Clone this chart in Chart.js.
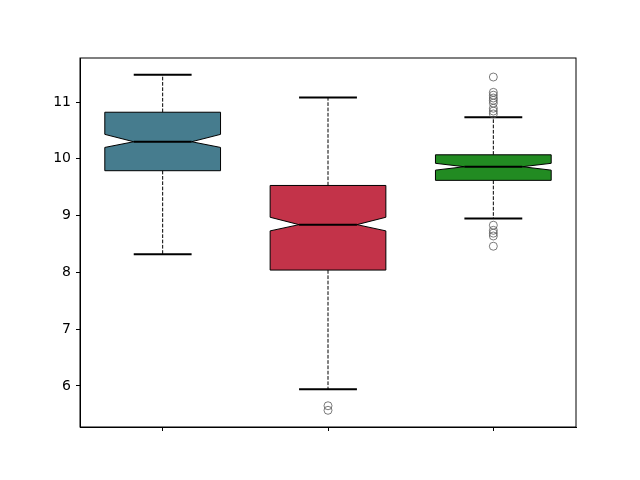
<!DOCTYPE html>
<html>
<head>
<meta charset="utf-8">
<script src="https://cdn.jsdelivr.net/npm/chart.js@4.4.1/dist/chart.umd.min.js"></script>
<style>
  html, body { margin: 0; padding: 0; background: #fff; }
  #wrap { width: 640px; height: 480px; }
</style>
</head>
<body>
<div id="wrap"><canvas id="chart" width="640" height="480"></canvas></div>
<script>
(function () {
    'use strict';

    /* --- Data --- */
    var positions   = [1, 2, 3];
    var boxColors   = ['#467c8e', '#c33349', '#228b22'];
    var whiskerLow  = [8.32, 5.94, 8.95];
    var q1          = [9.79, 8.04, 9.62];
    var notchLow    = [10.20, 8.73, 9.80];
    var median      = [10.30, 8.84, 9.86];
    var notchHigh   = [10.43, 8.97, 9.92];
    var q3          = [10.82, 9.53, 10.07];
    var whiskerHigh = [11.48, 11.08, 10.73];
    var outliers2   = [5.65, 5.57];
    var outliers3   = [11.44, 11.17, 11.12, 11.07, 11.03, 10.98, 10.89, 10.84, 10.79,
                       8.83, 8.74, 8.69, 8.64, 8.46];
    var yTicks      = [6, 7, 8, 9, 10, 11];

    var boxWidth = 0.7;
    var capWidth = 0.35;

    var outlierPoints = outliers2.map(function (v) { return { x: 2, y: v }; })
        .concat(outliers3.map(function (v) { return { x: 3, y: v }; }));

    /* --- Notched boxes drawn through the chart scales --- */
    var boxPlugin = {
        id: 'notchedBoxes',
        beforeDatasetsDraw: function (chart) {
            var ctx = chart.ctx;
            var xs = chart.scales.x, ys = chart.scales.y;
            ctx.save();
            positions.forEach(function (p, i) {
                var cx = xs.getPixelForValue(p);
                var l = xs.getPixelForValue(p - boxWidth / 2);
                var r = xs.getPixelForValue(p + boxWidth / 2);
                var wl = xs.getPixelForValue(p - boxWidth / 4);
                var wr = xs.getPixelForValue(p + boxWidth / 4);
                var cl = xs.getPixelForValue(p - capWidth / 2);
                var cr = xs.getPixelForValue(p + capWidth / 2);
                var yQ1 = ys.getPixelForValue(q1[i]);
                var yQ3 = ys.getPixelForValue(q3[i]);
                var yNl = ys.getPixelForValue(notchLow[i]);
                var yNh = ys.getPixelForValue(notchHigh[i]);
                var yMd = ys.getPixelForValue(median[i]);
                var yWl = ys.getPixelForValue(whiskerLow[i]);
                var yWh = ys.getPixelForValue(whiskerHigh[i]);

                // whiskers
                ctx.strokeStyle = '#000';
                ctx.lineWidth = 1;
                ctx.setLineDash([3.7, 1.6]);
                ctx.beginPath();
                ctx.moveTo(cx, yQ1); ctx.lineTo(cx, yWl);
                ctx.moveTo(cx, yQ3); ctx.lineTo(cx, yWh);
                ctx.stroke();
                ctx.setLineDash([]);

                // caps
                ctx.lineWidth = 2;
                ctx.beginPath();
                ctx.moveTo(cl, yWl); ctx.lineTo(cr, yWl);
                ctx.moveTo(cl, yWh); ctx.lineTo(cr, yWh);
                ctx.stroke();

                // box
                ctx.beginPath();
                ctx.moveTo(l, yQ1);
                ctx.lineTo(l, yNl);
                ctx.lineTo(wl, yMd);
                ctx.lineTo(l, yNh);
                ctx.lineTo(l, yQ3);
                ctx.lineTo(r, yQ3);
                ctx.lineTo(r, yNh);
                ctx.lineTo(wr, yMd);
                ctx.lineTo(r, yNl);
                ctx.lineTo(r, yQ1);
                ctx.closePath();
                ctx.fillStyle = boxColors[i];
                ctx.fill();
                ctx.lineWidth = 1;
                ctx.strokeStyle = '#000';
                ctx.stroke();

                // median
                ctx.lineWidth = 2;
                ctx.beginPath();
                ctx.moveTo(wl, yMd); ctx.lineTo(wr, yMd);
                ctx.stroke();
            });
            ctx.restore();
        },
        afterDraw: function (chart) {
            var a = chart.chartArea, ctx = chart.ctx;
            ctx.save();
            ctx.strokeStyle = '#000';
            ctx.lineWidth = 1;
            ctx.strokeRect(a.left, a.top, a.right - a.left, a.bottom - a.top);
            ctx.restore();
        }
    };

    Chart.defaults.font.family = "'DejaVu Sans', sans-serif";
    Chart.defaults.color = '#000';

    new Chart(document.getElementById('chart'), {
        type: 'scatter',
        data: {
            datasets: [{
                label: 'outliers',
                data: outlierPoints,
                pointStyle: 'circle',
                pointRadius: 4,
                pointHoverRadius: 4,
                borderColor: 'rgba(80,80,80,0.75)',
                backgroundColor: 'rgba(0,0,0,0)',
                borderWidth: 1
            }]
        },
        options: {
            responsive: false,
            animation: false,
            events: [],
            layout: { padding: { left: 0, right: 64, top: 58, bottom: 0 } },
            plugins: {
                legend: { display: false },
                tooltip: { enabled: false }
            },
            scales: {
                x: {
                    type: 'linear',
                    min: 0.5,
                    max: 3.5,
                    afterBuildTicks: function (s) {
                        s.ticks = positions.map(function (v) { return { value: v }; });
                    },
                    afterFit: function (s) { s.height = 53; },
                    ticks: { callback: function () { return ''; }, padding: 0 },
                    grid: { drawOnChartArea: false, drawTicks: true, tickLength: 4, color: '#000', lineWidth: 1 },
                    border: { display: true, color: '#000', width: 1 }
                },
                y: {
                    type: 'linear',
                    min: 5.276,
                    max: 11.775,
                    afterBuildTicks: function (s) {
                        s.ticks = yTicks.map(function (v) { return { value: v }; });
                    },
                    afterFit: function (s) { s.width = 80; },
                    ticks: { font: { size: 14 }, padding: 5, color: '#000' },
                    grid: { drawOnChartArea: false, drawTicks: true, tickLength: 4, color: '#000', lineWidth: 1 },
                    border: { display: true, color: '#000', width: 1 }
                }
            }
        },
        plugins: [boxPlugin]
    });
})();
</script>
</body>
</html>
